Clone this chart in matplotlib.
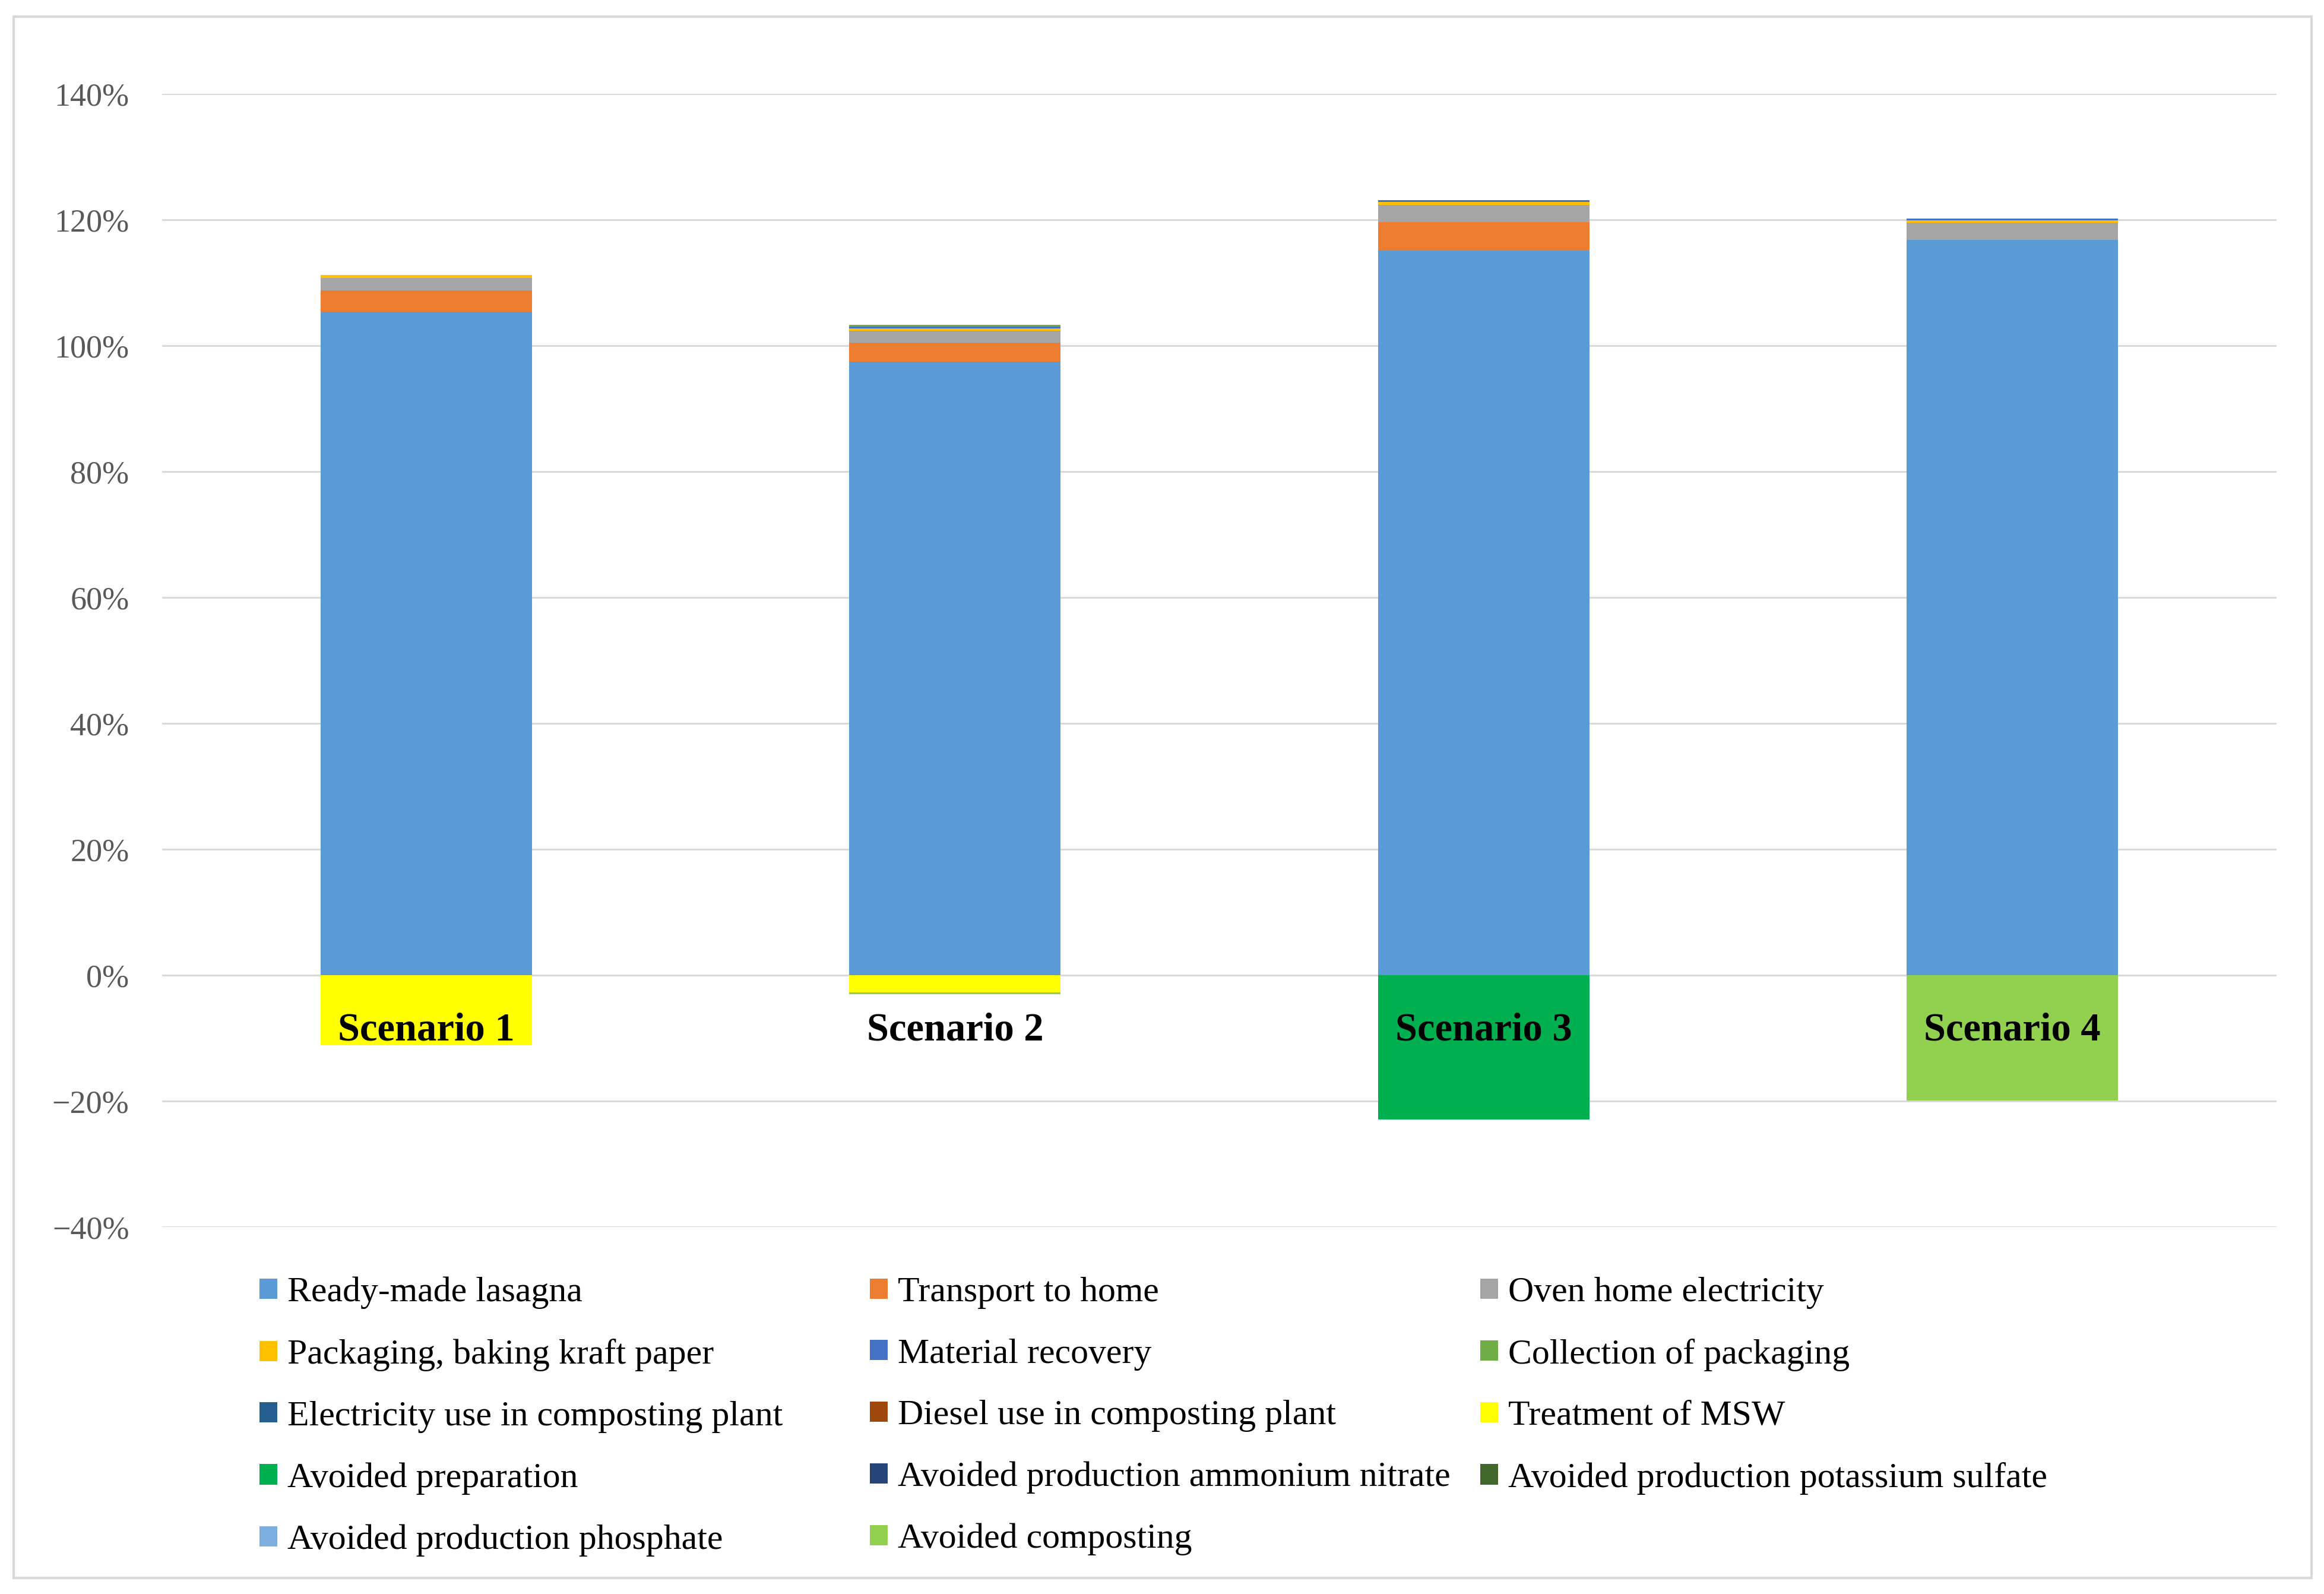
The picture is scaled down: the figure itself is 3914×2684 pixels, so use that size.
import matplotlib
matplotlib.use("Agg")
import matplotlib.pyplot as plt
from matplotlib.patches import Rectangle, Patch
from matplotlib.ticker import FuncFormatter
import numpy as np

plt.rcParams['font.family'] = ['Liberation Serif', 'DejaVu Serif']

scenarios = ["Scenario 1", "Scenario 2", "Scenario 3", "Scenario 4"]

series_names = [
    "Ready-made lasagna",
    "Transport to home",
    "Oven home electricity",
    "Packaging, baking kraft paper",
    "Material recovery",
    "Collection of packaging",
    "Electricity use in composting plant",
    "Diesel use in composting plant",
    "Treatment of MSW",
    "Avoided preparation",
    "Avoided production ammonium nitrate",
    "Avoided production potassium sulfate",
    "Avoided production phosphate",
    "Avoided composting",
]

series_colors = [
    "#5B9BD5", "#ED7D31", "#A5A5A5", "#FFC000", "#4472C4", "#70AD47",
    "#255E91", "#9E480E", "#FFFF00", "#00B050", "#264478", "#43682B",
    "#7CAFDD", "#92D050",
]

# values in % (Scenario 1..4)
ready_made_lasagna = [105.4, 97.5, 115.1, 116.8]
transport_to_home = [3.4, 3.0, 4.5, 0.0]
oven_home_electricity = [2.0, 1.9, 2.8, 2.7]
packaging_kraft_paper = [0.4, 0.3, 0.4, 0.4]
material_recovery = [0.0, 0.3, 0.3, 0.3]
collection_of_packaging = [0.0, 0.3, 0.0, 0.0]
electricity_composting = [0.0, 0.0, 0.0, 0.0]
diesel_composting = [0.0, 0.0, 0.0, 0.0]
treatment_msw = [-11.1, -2.7, 0.0, 0.0]
avoided_preparation = [0.0, 0.0, -22.9, 0.0]
avoided_ammonium_nitrate = [0.0, 0.0, 0.0, 0.0]
avoided_potassium_sulfate = [0.0, 0.0, 0.0, 0.0]
avoided_phosphate = [0.0, 0.0, 0.0, 0.0]
avoided_composting = [0.0, -0.3, 0.0, -19.9]

series_values = [
    ready_made_lasagna, transport_to_home, oven_home_electricity,
    packaging_kraft_paper, material_recovery, collection_of_packaging,
    electricity_composting, diesel_composting, treatment_msw,
    avoided_preparation, avoided_ammonium_nitrate, avoided_potassium_sulfate,
    avoided_phosphate, avoided_composting,
]

W, H = 3914, 2684
fig = plt.figure(figsize=(W / 100, H / 100), dpi=100)
fig.patch.set_facecolor("white")

ax = fig.add_axes([273 / W, 1 - 2066 / H, (3834 - 273) / W, (2066 - 158) / H])

x = np.arange(len(scenarios))
pos_bottom = np.zeros(len(scenarios))
neg_bottom = np.zeros(len(scenarios))
handles = []
for name, vals, col in zip(series_names, series_values, series_colors):
    v = np.array(vals, dtype=float)
    bottoms = np.where(v >= 0, pos_bottom, neg_bottom)
    ax.bar(x, v, width=0.4, bottom=bottoms, color=col, edgecolor="none", zorder=2)
    pos_bottom = pos_bottom + np.where(v > 0, v, 0)
    neg_bottom = neg_bottom + np.where(v < 0, v, 0)
    handles.append(Patch(facecolor=col, edgecolor="none", label=name))

ax.set_xlim(-0.5, len(scenarios) - 0.5)
ax.set_ylim(-40, 140)
ax.set_yticks(np.arange(-40, 141, 20))
ax.yaxis.set_major_formatter(FuncFormatter(
    lambda v, p: (f"{int(round(v))}%" if v >= 0 else f"\u2212{int(round(-v))}%")))
ax.grid(axis="y", color="#D9D9D9", linewidth=2.2, zorder=0)
ax.set_axisbelow(True)
for s in ax.spines.values():
    s.set_visible(False)
ax.spines["bottom"].set_position(("data", 0))
ax.tick_params(axis="y", length=0, pad=40, labelsize=39, labelcolor="#595959")
ax.set_xticks(x)
ax.set_xticklabels(scenarios, fontsize=48, fontweight="bold", color="black")
ax.tick_params(axis="x", length=0, pad=45)
for lbl in ax.get_xticklabels():
    lbl.set_zorder(5)
ax.xaxis.set_zorder(5)

# legend: three columns placed in row-major order like the original
ncols = 3
col_x = [437 / W, 1465 / W, 2493 / W]
top_y = 1 - 2150 / H
for c in range(ncols):
    hs = handles[c::ncols]
    fig.legend(handles=hs, loc="upper left", bbox_to_anchor=(col_x[c], top_y),
               frameon=False, fontsize=43, handlelength=0.5, handleheight=0.5,
               handletextpad=0.28, labelspacing=0.83, borderpad=0, borderaxespad=0)

# outer frame
fig.patches.append(Rectangle((23 / W, 1 - 2657 / H), (3893 - 23) / W, (2657 - 28) / H,
                             transform=fig.transFigure, fill=False,
                             edgecolor="#D9D9D9", linewidth=3))

fig.savefig("out.png", dpi=100, facecolor="white")
